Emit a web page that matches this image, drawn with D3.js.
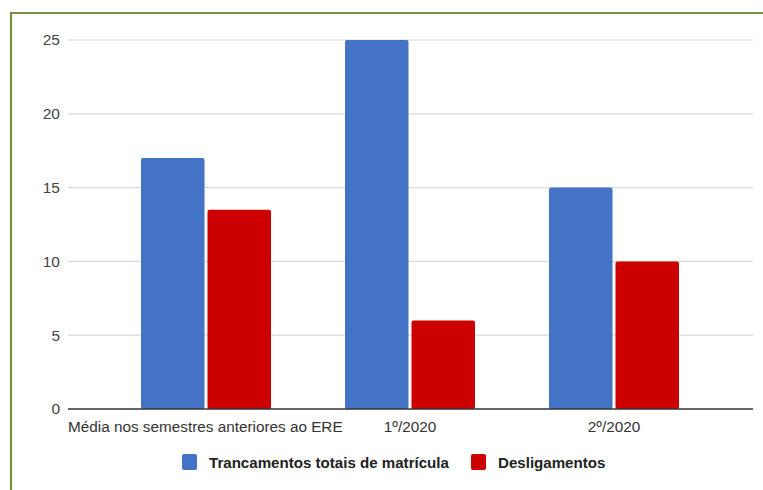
<!DOCTYPE html>
<html>
<head>
<meta charset="utf-8">
<script src="https://cdn.jsdelivr.net/npm/d3@7"></script>
<style>
  html, body { margin: 0; padding: 0; background: #fff; }
  svg { display: block; }
</style>
</head>
<body>
<div id="chart"></div>
<script>
// Categories, series and ticks
const categories = ["Média nos semestres anteriores ao ERE", "1º/2020", "2º/2020"];
const seriesNames = ["Trancamentos totais de matrícula", "Desligamentos"];
const trancamentos = [17, 25, 15];
const desligamentos = [13.5, 6, 10];
const yTicks = [0, 5, 10, 15, 20, 25];
const colors = ["#4472c4", "#cc0000"];

const W = 763, H = 490;
const svg = d3.select("#chart").append("svg").attr("width", W).attr("height", H);
const font = "'Liberation Sans', Arial, sans-serif";

// Green frame
svg.append("path")
  .attr("d", `M11,${H} L11,13 L${W},13`)
  .attr("fill", "none").attr("stroke", "#77933c").attr("stroke-width", 2.2);

const gridLeft = 68, gridRight = 753;
const y = d3.scaleLinear().domain([0, 25]).range([409, 40]);
const x0 = d3.scaleBand().domain(categories).range([104, 716]).paddingInner(0).paddingOuter(0);
const x1 = d3.scaleBand().domain(seriesNames).range([0, 130]).paddingInner(0.045);

// Gridlines
svg.append("g").selectAll("line").data(yTicks.filter(d => d > 0)).join("line")
  .attr("x1", gridLeft).attr("x2", gridRight)
  .attr("y1", d => y(d)).attr("y2", d => y(d))
  .attr("stroke", "#d9d9d9").attr("stroke-width", 1.2);

// Y axis labels
const yAxis = d3.axisLeft(y).tickValues(yTicks).tickSize(0).tickPadding(8);
const gy = svg.append("g").attr("transform", `translate(${gridLeft},0)`).call(yAxis);
gy.select(".domain").remove();
gy.selectAll("text").attr("font-family", font).attr("font-size", 15.5).attr("fill", "#444");

// Bars
const rows = categories.map((c, i) => ({ cat: c, vals: [trancamentos[i], desligamentos[i]] }));
const groups = svg.append("g").selectAll("g").data(rows).join("g")
  .attr("transform", d => `translate(${x0(d.cat) + x0.bandwidth() / 2 - 65},0)`);
groups.selectAll("rect").data(d => d.vals.map((v, j) => ({ v, s: seriesNames[j], j }))).join("rect")
  .attr("x", d => x1(d.s))
  .attr("width", x1.bandwidth())
  .attr("y", d => y(d.v))
  .attr("height", d => y(0) - y(d.v))
  .attr("rx", 2)
  .attr("fill", d => colors[d.j]);

// Baseline
svg.append("line")
  .attr("x1", gridLeft).attr("x2", gridRight)
  .attr("y1", y(0)).attr("y2", y(0))
  .attr("stroke", "#333").attr("stroke-width", 1.3);

// Category labels (first one starts at the plot edge)
svg.append("g").selectAll("text").data(categories).join("text")
  .attr("x", (d, i) => i === 0 ? gridLeft : x0(d) + x0.bandwidth() / 2)
  .attr("y", 432)
  .attr("text-anchor", (d, i) => i === 0 ? "start" : "middle")
  .attr("font-family", font).attr("font-size", 15.3).attr("fill", "#333")
  .text(d => d);

// Legend
const legend = svg.append("g").attr("transform", "translate(0,462)");
const items = [{ x: 182, name: seriesNames[0], c: colors[0] }, { x: 471, name: seriesNames[1], c: colors[1] }];
items.forEach(it => {
  legend.append("rect").attr("x", it.x).attr("y", -8).attr("width", 15).attr("height", 16)
    .attr("rx", 2).attr("fill", it.c);
  legend.append("text").attr("x", it.x + 27).attr("y", 6)
    .attr("font-family", font).attr("font-size", 15.1).attr("font-weight", "bold").attr("fill", "#222")
    .text(it.name);
});
</script>
</body>
</html>
